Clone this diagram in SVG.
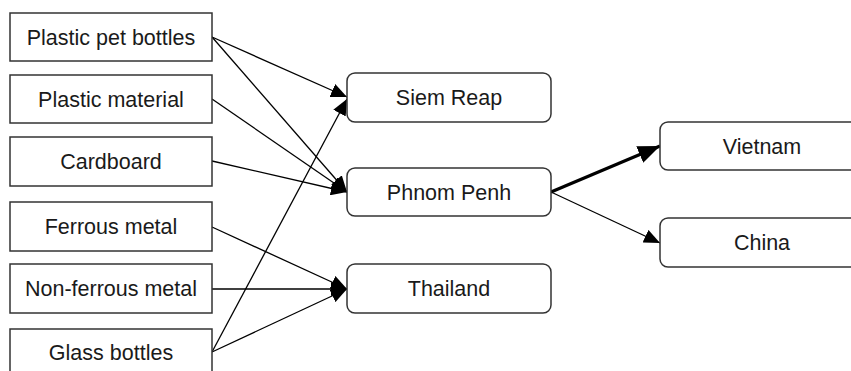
<svg xmlns="http://www.w3.org/2000/svg" width="851" height="371" viewBox="0 0 851 371">
  <style>
    .src rect { fill: #ffffff; stroke: #333333; stroke-width: 1.5; }
    .hub rect { fill: #ffffff; stroke: #333333; stroke-width: 1.5; }
    text { font-family: "Liberation Sans", Arial, sans-serif; font-size: 21.5px; fill: #1a1a1a; text-anchor: middle; }
    .edge { stroke: #000000; stroke-width: 1.3; fill: none; marker-end: url(#arrow); }
    .edge.heavy { stroke-width: 3.2; marker-end: url(#arrow-heavy); }
  </style>
  <defs>
    <marker id="arrow" markerUnits="userSpaceOnUse" markerWidth="16" markerHeight="14" refX="16" refY="7" orient="auto" viewBox="0 0 16 14">
      <path d="M0,0 L16,7 L0,14 Z" fill="#000000"/>
    </marker>
    <marker id="arrow-heavy" markerUnits="userSpaceOnUse" markerWidth="22" markerHeight="18" refX="22" refY="9" orient="auto" viewBox="0 0 22 18">
      <path d="M0,0 L22,9 L0,18 Z" fill="#000000"/>
    </marker>
  </defs>

  <!-- connectors -->
  <g id="connectors">
    <line class="edge" x1="212" y1="37" x2="347" y2="97"/>
    <line class="edge" x1="212" y1="37" x2="347" y2="192"/>
    <line class="edge" x1="212" y1="99" x2="347" y2="192"/>
    <line class="edge" x1="212" y1="161" x2="347" y2="192"/>
    <line class="edge" x1="212" y1="227" x2="347" y2="289"/>
    <line class="edge" x1="212" y1="289" x2="347" y2="289"/>
    <line class="edge" x1="212" y1="352" x2="347" y2="289"/>
    <line class="edge" x1="212" y1="352" x2="347" y2="99"/>
    <line class="edge heavy" x1="551" y1="192" x2="660" y2="146"/>
    <line class="edge" x1="551" y1="192" x2="660" y2="243"/>
  </g>

  <!-- source materials -->
  <g id="plastic-pet-bottles" class="src">
    <rect x="10" y="13" width="202" height="48"/>
    <text x="111" y="45">Plastic pet bottles</text>
  </g>
  <g id="plastic-material" class="src">
    <rect x="10" y="75" width="202" height="48"/>
    <text x="111" y="107">Plastic material</text>
  </g>
  <g id="cardboard" class="src">
    <rect x="10" y="137" width="202" height="49"/>
    <text x="111" y="169">Cardboard</text>
  </g>
  <g id="ferrous-metal" class="src">
    <rect x="10" y="202" width="202" height="49"/>
    <text x="111" y="234">Ferrous metal</text>
  </g>
  <g id="non-ferrous-metal" class="src">
    <rect x="10" y="264" width="202" height="49"/>
    <text x="111" y="296">Non-ferrous metal</text>
  </g>
  <g id="glass-bottles" class="src">
    <rect x="10" y="329" width="202" height="48"/>
    <text x="111" y="360">Glass bottles</text>
  </g>

  <!-- hubs -->
  <g id="siem-reap" class="hub">
    <rect x="347" y="73" width="204" height="49" rx="8"/>
    <text x="449" y="105">Siem Reap</text>
  </g>
  <g id="phnom-penh" class="hub">
    <rect x="347" y="168" width="204" height="48" rx="8"/>
    <text x="449" y="200">Phnom Penh</text>
  </g>
  <g id="thailand" class="hub">
    <rect x="347" y="264" width="204" height="49" rx="8"/>
    <text x="449" y="296">Thailand</text>
  </g>

  <!-- destinations -->
  <g id="vietnam" class="hub">
    <rect x="660" y="122" width="204" height="48" rx="8"/>
    <text x="762" y="154">Vietnam</text>
  </g>
  <g id="china" class="hub">
    <rect x="660" y="218" width="204" height="49" rx="8"/>
    <text x="762" y="250">China</text>
  </g>
</svg>
